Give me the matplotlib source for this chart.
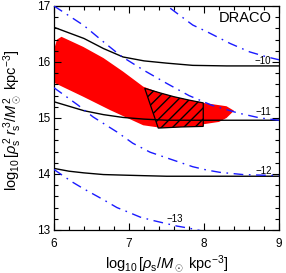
import matplotlib
matplotlib.use('Agg')
import matplotlib.pyplot as plt
from matplotlib.ticker import MultipleLocator

plt.rcParams['font.family'] = ['Liberation Sans', 'DejaVu Sans']
plt.rcParams['mathtext.fontset'] = 'custom'
plt.rcParams['mathtext.rm'] = 'Liberation Sans'
plt.rcParams['mathtext.it'] = 'Liberation Sans:italic'
plt.rcParams['mathtext.bf'] = 'Liberation Sans:bold'

# black solid curves (x, y) for each label
black_x = [6.0, 6.2, 6.4, 6.66, 6.92, 7.2, 7.5, 7.85, 8.3, 9.0]
black_m10 = [16.62, 16.52, 16.42, 16.24, 16.09, 16.02, 15.98, 15.94, 15.93, 15.93]
black_m11 = [15.29, 15.21, 15.13, 15.06, 15.01, 14.98, 14.96, 14.96, 14.96, 14.96]
black_m12 = [14.10, 14.05, 14.02, 13.99, 13.98, 13.97, 13.96, 13.96, 13.96, 13.96]

# blue dash-dot curves
blue_m10_x = [7.55, 7.85, 8.04, 8.35, 8.61, 8.84, 9.0]
blue_m10_y = [16.96, 16.66, 16.54, 16.33, 16.18, 16.09, 16.04]
blue_m11_x = [6.0, 6.4, 6.65, 6.9, 7.2, 7.5, 7.8, 8.1, 8.45, 8.75, 9.0]
blue_m11_y = [17.0, 16.65, 16.37, 16.1, 15.85, 15.62, 15.40, 15.23, 15.09, 15.0, 14.96]
blue_m12_x = [6.0, 6.32, 6.52, 6.84, 7.05, 7.28, 7.52, 7.85, 8.04, 8.21, 8.52, 9.0]
blue_m12_y = [15.54, 15.23, 15.02, 14.75, 14.55, 14.39, 14.28, 14.13, 14.07, 14.03, 13.99, 13.97]
blue_m13_x = [6.0, 6.24, 6.39, 6.66, 6.84, 6.97, 7.15, 7.32, 7.48, 7.64, 7.81, 7.95]
blue_m13_y = [14.08, 13.86, 13.74, 13.54, 13.40, 13.33, 13.23, 13.17, 13.12, 13.07, 13.03, 12.99]

# red allowed region (outline)
red_x = [6.0, 6.04, 6.1, 6.39, 6.66, 6.92, 7.19, 7.41, 7.6, 7.8, 7.99, 8.3, 8.4,
         8.3, 8.2, 8.0, 7.7, 7.4, 7.19, 6.75, 6.39, 6.0]
red_y = [16.22, 16.40, 16.45, 16.27, 16.07, 15.83, 15.56, 15.45, 15.38, 15.32, 15.27, 15.21, 15.13,
         15.0, 14.93, 14.89, 14.85, 14.83, 14.87, 15.14, 15.38, 15.63]

# hatched region
hatch_x = [7.21, 7.41, 7.6, 7.8, 7.99, 7.99, 7.7, 7.39]
hatch_y = [15.53, 15.45, 15.38, 15.32, 15.27, 14.85, 14.84, 14.82]

curve_labels = ["\u221210", "\u221211", "\u221212", "\u221213"]
label_x = [8.79, 8.79, 8.8, 7.61]
label_y = [16.02, 15.1, 14.06, 13.19]

fig = plt.figure(figsize=(2.86, 2.73), dpi=100)
ax = fig.add_axes([54/286, 1-230/273, 225/286, 224/273])

ax.fill(red_x, red_y, color='#ff0000', lw=0, zorder=1)
ax.fill(hatch_x, hatch_y, facecolor='#ff0000', edgecolor='black', hatch='///', lw=0.9, zorder=2)

for yy in (black_m10, black_m11, black_m12):
    ax.plot(black_x, yy, color='black', lw=1.0, zorder=3)

blue = '#1a1aff'
for xx, yy in ((blue_m10_x, blue_m10_y), (blue_m11_x, blue_m11_y),
               (blue_m12_x, blue_m12_y), (blue_m13_x, blue_m13_y)):
    ax.plot(xx, yy, color=blue, lw=1.0, dashes=[7, 4, 1.2, 4], zorder=4)

for t, lx, ly in zip(curve_labels, label_x, label_y):
    ax.text(lx, ly, t, fontsize=7, ha='center', va='center', zorder=5)

ax.text(8.9, 16.78, "DRACO", fontsize=10.5, ha='right', va='center')

ax.set_xlim(6, 9)
ax.set_ylim(13, 17)
ax.xaxis.set_major_locator(MultipleLocator(1))
ax.xaxis.set_minor_locator(MultipleLocator(0.2))
ax.yaxis.set_major_locator(MultipleLocator(1))
ax.yaxis.set_minor_locator(MultipleLocator(0.2))
ax.tick_params(which='both', direction='in', top=True, right=True, width=0.8, labelsize=8.5)
ax.tick_params(which='major', length=5)
ax.tick_params(which='minor', length=2.8)
ax.tick_params(axis='x', pad=6)
ax.tick_params(axis='y', pad=3)
for s in ax.spines.values():
    s.set_linewidth(0.9)

ax.set_xlabel(r'$\log_{10}[\rho_\mathrm{s}/M_\odot\ \mathrm{kpc}^{-3}]$', fontsize=10.5, labelpad=2)
fig.text(12.5/286, 1-120/273,
         r'$\log_{10}[\rho_\mathrm{s}^{\,2}\,r_\mathrm{s}^{\,3}/M_\odot^{\,2}\ \mathrm{kpc}^{-3}]$',
         fontsize=10.5, rotation=90, ha='center', va='center')

fig.savefig('out.png', dpi=100)
